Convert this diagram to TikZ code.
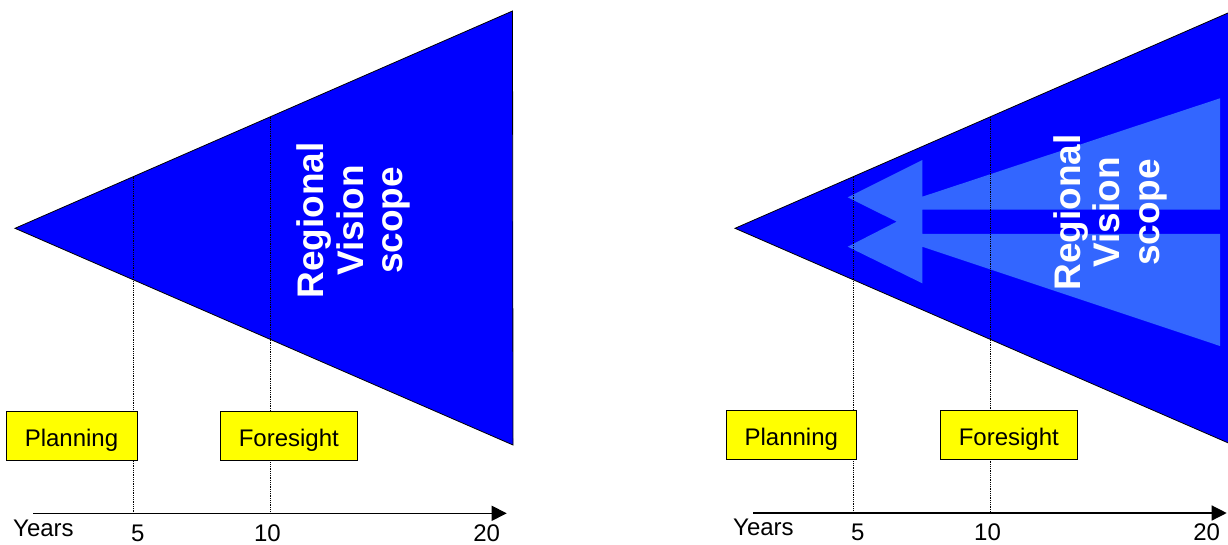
\documentclass[tikz,border=0pt]{standalone}
\usepackage{fontspec}
\setmainfont{Liberation Sans}
\usetikzlibrary{arrows.meta}
\definecolor{vblue}{HTML}{0000FF}
\definecolor{lblue}{HTML}{3366FF}
\definecolor{boxyellow}{HTML}{FFFF00}
\begin{document}
\begin{tikzpicture}[x=1pt,y=-1pt,
  tri/.style={fill=vblue,draw=black,line width=0.8pt,line join=miter},
  inner/.style={fill=lblue},
  vdots/.style={draw=black,line width=0.7pt,dash pattern=on 0.9pt off 0.9pt},
  scopetxt/.style={rotate=90,anchor=base,inner sep=0pt,text=white,
    font=\fontsize{37}{40}\selectfont\bfseries},
  yellowbox/.style={draw=black,line width=0.9pt,fill=boxyellow,inner sep=0pt,
    minimum height=48.3pt,text height=22pt,text depth=0.6pt,
    font=\fontsize{24}{28}\selectfont},
  axis/.style={draw=black,line width=1.3pt,-{Triangle[length=15pt,width=15pt]}},
  axlabel/.style={inner sep=0pt,font=\fontsize{24}{28}\selectfont}
]
\clip (0,0) rectangle (1228,544);
\fill[white] (0,0) rectangle (1228,544);

% ---------- left panel ----------
\coordinate (LA) at (15,228.3);
\coordinate (LT) at (512.5,11);
\coordinate (LB) at (513,445);
\draw[tri] (LA) -- (LT) -- (LB) -- cycle;

\coordinate (Ld5t) at (133.3,176.5);
\coordinate (Ld5b) at (133.3,513.3);
\coordinate (Ld10t) at (270,116.6);
\coordinate (Ld10b) at (270,513.3);
\draw[vdots] (Ld5t) -- (Ld5b);
\draw[vdots] (Ld10t) -- (Ld10b);

\node[scopetxt] (LReg) at (323.3,220.5) {Regional};
\node[scopetxt] (LVis) at (363,220.5) {Vision};
\node[scopetxt] (LSco) at (402.5,220.5) {scope};

\node[yellowbox,minimum width=131pt] (LPlan) at (71.5,435.8) {Planning};
\node[yellowbox,minimum width=137.7pt] (LFore) at (288.8,435.8) {Foresight};

\coordinate (LAx0) at (33,513.3);
\coordinate (LAx1) at (506.7,513.3);
\draw[axis] (LAx0) -- (LAx1);

\node[axlabel,anchor=base west] (LYears) at (13,536.7) {Years};
\node[axlabel,anchor=base] (L5) at (137.8,541) {5};
\node[axlabel,anchor=base] (L10) at (267.5,541) {10};
\node[axlabel,anchor=base] (L20) at (486.7,541) {20};

% ---------- right panel ----------
\coordinate (RA) at (735,228.3);
\coordinate (RT) at (1232.5,11);
\coordinate (RB) at (1233,445);
\draw[tri] (RA) -- (RT) -- (RB) -- cycle;

\fill[inner] (847.7,197.3) -- (922.3,160) -- (922.3,196.7) -- (1220,98.3)
  -- (1220,209.5) -- (922.3,209.5) -- (922.3,233.8) -- (1220,233.8)
  -- (1220,346) -- (922.3,246.7) -- (922.3,283.3) -- (847.7,246.7)
  -- (896.7,221.7) -- cycle;

\coordinate (Rd5t) at (853.3,176.7);
\coordinate (Rd5b) at (853.3,513);
\coordinate (Rd10t) at (990,116.8);
\coordinate (Rd10b) at (990,513);
\draw[vdots] (Rd5t) -- (Rd5b);
\draw[vdots] (Rd10t) -- (Rd10b);

\node[scopetxt] (RReg) at (1080,212.5) {Regional};
\node[scopetxt] (RVis) at (1119.5,212.5) {Vision};
\node[scopetxt] (RSco) at (1159,212.5) {scope};

\node[yellowbox,minimum width=130.7pt] (RPlan) at (791.3,435) {Planning};
\node[yellowbox,minimum width=137.7pt] (RFore) at (1008.8,435) {Foresight};

\coordinate (RAx0) at (753,513);
\coordinate (RAx1) at (1226.7,513);
\draw[axis] (RAx0) -- (RAx1);

\node[axlabel,anchor=base west] (RYears) at (733,535) {Years};
\node[axlabel,anchor=base] (R5) at (857.8,540) {5};
\node[axlabel,anchor=base] (R10) at (987.5,540) {10};
\node[axlabel,anchor=base] (R20) at (1206.7,540) {20};
\end{tikzpicture}
\end{document}
